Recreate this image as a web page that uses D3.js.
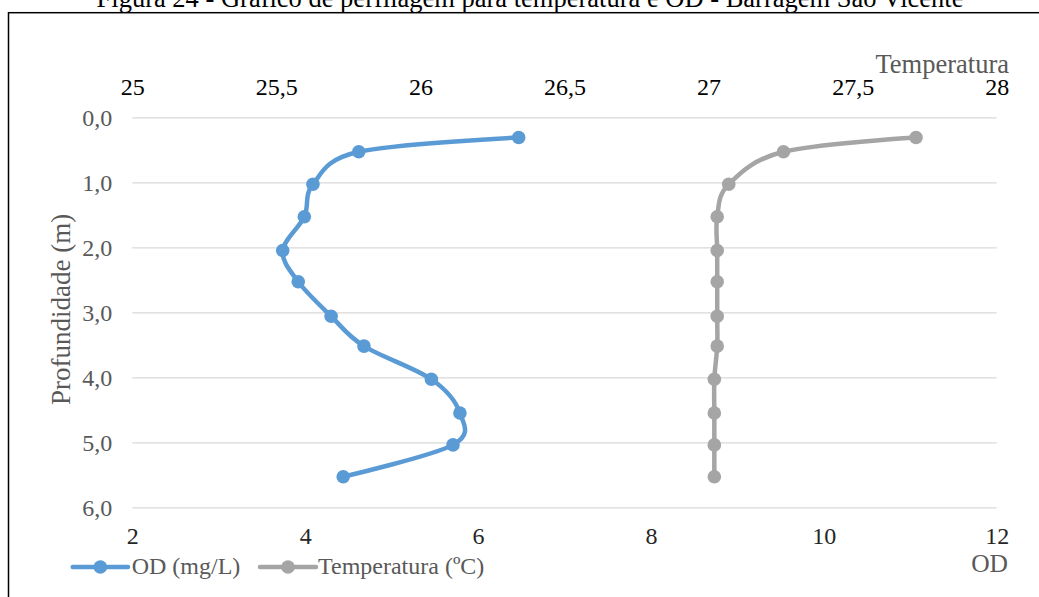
<!DOCTYPE html>
<html>
<head>
<meta charset="utf-8">
<script src="https://cdn.jsdelivr.net/npm/d3@7"></script>
<style>
  html, body { margin: 0; padding: 0; background: #fff; }
  svg { display: block; font-family: "Liberation Serif", "Times New Roman", serif; }
</style>
</head>
<body>
<svg id="chart" width="1039" height="597"></svg>
<script>
// Profile of dissolved oxygen and temperature by depth — São Vicente reservoir
const depth = [0.31, 0.53, 1.03, 1.53, 2.05, 2.53, 3.06, 3.52, 4.03, 4.55, 5.04, 5.53];
const od = [6.47, 4.62, 4.09, 3.99, 3.74, 3.92, 4.30, 4.68, 5.46, 5.79, 5.71, 4.44];
const temperatura = [27.72, 27.26, 27.07, 27.03, 27.03, 27.03, 27.03, 27.03, 27.02, 27.02, 27.02, 27.02];

const depthTicks = [0, 1, 2, 3, 4, 5, 6];
const odTicks = [2, 4, 6, 8, 10, 12];
const tempTicks = [25, 25.5, 26, 26.5, 27, 27.5, 28];

const seriesNames = ["OD (mg/L)", "Temperatura (ºC)"];
const colors = ["#5B9BD5", "#A5A5A5"];

const fmt1 = v => d3.format(".1f")(v).replace(".", ",");
const fmtG = v => String(v).replace(".", ",");

const svg = d3.select("#chart");
const W = 1039, H = 597;
const plot = { left: 132.3, right: 996.7, top: 117.3, bottom: 507.3 };

const x = d3.scaleLinear().domain([2, 12]).range([plot.left, plot.right]);
const xTop = d3.scaleLinear().domain([25, 28]).range([plot.left, plot.right]);
const y = d3.scaleLinear().domain([0, 6]).range([plot.top, plot.bottom]);

// Title (sits above the frame)
svg.append("text")
  .attr("x", 530).attr("y", 7)
  .attr("text-anchor", "middle")
  .attr("font-size", 26.5)
  .attr("fill", "#000")
  .text("Figura 24 - Gráfico de perfilagem para temperatura e OD - Barragem São Vicente");

// Chart frame
svg.append("rect")
  .attr("x", 8.5).attr("y", 12.7)
  .attr("width", W + 10).attr("height", H + 10)
  .attr("fill", "none").attr("stroke", "#000").attr("stroke-width", 1.5);

// Horizontal gridlines + depth axis labels
const yAxis = d3.axisLeft(y).tickValues(depthTicks).tickFormat(fmt1)
  .tickSize(-(plot.right - plot.left)).tickPadding(20);
const gy = svg.append("g").attr("transform", `translate(${plot.left},0)`).call(yAxis);
gy.select(".domain").remove();
gy.selectAll(".tick line").attr("stroke", "#D9D9D9").attr("stroke-width", 1.3);
gy.selectAll(".tick text").attr("font-size", 24).attr("fill", "#595959")
  .attr("font-family", "Liberation Serif").attr("dy", "0.33em").attr("x", -20);

// Bottom OD axis
const xAxis = d3.axisBottom(x).tickValues(odTicks).tickFormat(d3.format("d")).tickSize(0).tickPadding(0);
const gx = svg.append("g").attr("transform", `translate(0,${plot.bottom})`).call(xAxis);
gx.select(".domain").remove();
gx.selectAll(".tick text").attr("font-size", 24).attr("fill", "#262626")
  .attr("font-family", "Liberation Serif").attr("dy", null).attr("y", 37);

// Top temperature axis
const xTopAxis = d3.axisTop(xTop).tickValues(tempTicks).tickFormat(fmtG).tickSize(0).tickPadding(0);
const gt = svg.append("g").attr("transform", `translate(0,${plot.top})`).call(xTopAxis);
gt.select(".domain").remove();
gt.selectAll(".tick text").attr("font-size", 24).attr("fill", "#000")
  .attr("font-family", "Liberation Serif").attr("dy", null).attr("y", -22);

// Axis titles
svg.append("text").attr("x", 1009).attr("y", 73).attr("text-anchor", "end")
  .attr("font-size", 26.5).attr("fill", "#595959").text("Temperatura");
svg.append("text").attr("x", 1008).attr("y", 572).attr("text-anchor", "end")
  .attr("font-size", 25.5).attr("fill", "#595959").text("OD");
svg.append("text")
  .attr("transform", `translate(61,${(plot.top + plot.bottom) / 2 - 3}) rotate(-90)`)
  .attr("text-anchor", "middle").attr("dominant-baseline", "central")
  .attr("font-size", 27).attr("fill", "#595959").text("Profundidade (m)");

// Series
const curve = d3.curveCatmullRom.alpha(0);
const odPts = depth.map((d, i) => [x(od[i]), y(d)]);
const tPts = depth.map((d, i) => [xTop(temperatura[i]), y(d)]);
const line = d3.line().curve(curve);

[[odPts, colors[0]], [tPts, colors[1]]].forEach(([pts, c]) => {
  const g = svg.append("g");
  g.append("path").attr("d", line(pts)).attr("fill", "none")
    .attr("stroke", c).attr("stroke-width", 4.5).attr("stroke-linecap", "round");
  g.selectAll("circle").data(pts).join("circle")
    .attr("cx", p => p[0]).attr("cy", p => p[1]).attr("r", 6.8).attr("fill", c);
});

// Legend
const legend = svg.append("g");
const legendItems = [
  { x0: 72.7, x1: 128, tx: 131.7, name: seriesNames[0], color: colors[0] },
  { x0: 260, x1: 316, tx: 318, name: seriesNames[1], color: colors[1] }
];
legendItems.forEach(it => {
  legend.append("line").attr("x1", it.x0).attr("x2", it.x1).attr("y1", 567).attr("y2", 567)
    .attr("stroke", it.color).attr("stroke-width", 4.5).attr("stroke-linecap", "round");
  legend.append("circle").attr("cx", (it.x0 + it.x1) / 2).attr("cy", 567).attr("r", 6.8).attr("fill", it.color);
  legend.append("text").attr("x", it.tx).attr("y", 574).attr("font-size", 24)
    .attr("fill", "#595959").text(it.name);
});
</script>
</body>
</html>
